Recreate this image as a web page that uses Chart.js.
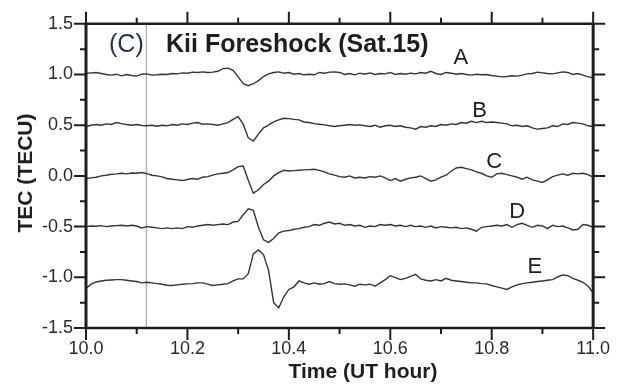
<!DOCTYPE html>
<html>
<head>
<meta charset="utf-8">
<title>Kii Foreshock TEC</title>
<script src="https://cdn.jsdelivr.net/npm/chart.js@4.4.0/dist/chart.umd.min.js"></script>
<style>
  body { margin: 0; background: #fff; }
  #wrap { width: 620px; height: 387px; }
</style>
</head>
<body>
<div id="wrap"><canvas id="tecChart" width="620" height="387"></canvas></div>
<script>
// ===============================
// DATA (TEC traces, offset per satellite/station)
// ===============================
const times = [
  10.00, 10.01, 10.02, 10.03, 10.04, 10.05, 10.06, 10.07, 10.08, 10.09,
  10.10, 10.11, 10.12, 10.13, 10.14, 10.15, 10.16, 10.17, 10.18, 10.19,
  10.20, 10.21, 10.22, 10.23, 10.24, 10.25, 10.26, 10.27, 10.28, 10.29,
  10.30, 10.31, 10.32, 10.33, 10.34, 10.35, 10.36, 10.37, 10.38, 10.39,
  10.40, 10.41, 10.42, 10.43, 10.44, 10.45, 10.46, 10.47, 10.48, 10.49,
  10.50, 10.51, 10.52, 10.53, 10.54, 10.55, 10.56, 10.57, 10.58, 10.59,
  10.60, 10.61, 10.62, 10.63, 10.64, 10.65, 10.66, 10.67, 10.68, 10.69,
  10.70, 10.71, 10.72, 10.73, 10.74, 10.75, 10.76, 10.77, 10.78, 10.79,
  10.80, 10.81, 10.82, 10.83, 10.84, 10.85, 10.86, 10.87, 10.88, 10.89,
  10.90, 10.91, 10.92, 10.93, 10.94, 10.95, 10.96, 10.97, 10.98, 10.99,
  11.00
];

const traceA = [
  1.010, 1.016, 1.020, 1.010, 1.000, 0.994, 1.003, 0.987, 1.000, 0.990,
  0.984, 1.003, 1.006, 0.994, 0.997, 1.003, 1.000, 1.010, 1.006, 1.016,
  1.013, 1.023, 1.020, 1.026, 1.020, 1.023, 1.032, 1.058, 1.062, 1.042,
  0.977, 0.909, 0.890, 0.909, 0.940, 0.980, 1.006, 1.020, 1.026, 1.013,
  1.020, 1.003, 1.010, 0.997, 1.003, 0.997, 1.020, 1.013, 1.023, 1.026,
  1.020, 1.000, 1.010, 0.997, 1.013, 1.003, 1.016, 1.000, 1.010, 1.006,
  1.020, 1.000, 1.010, 1.003, 1.013, 1.006, 1.020, 1.013, 1.032, 1.010,
  1.000, 1.020, 1.013, 1.003, 1.010, 1.000, 0.994, 1.003, 0.997, 1.000,
  0.990, 0.984, 0.977, 0.980, 0.987, 0.984, 0.994, 1.006, 1.010, 1.023,
  1.016, 1.010, 1.006, 1.016, 1.026, 1.020, 1.000, 1.010, 0.994, 0.977,
  0.968
];

const traceB = [
  0.487, 0.500, 0.507, 0.500, 0.513, 0.507, 0.526, 0.516, 0.507, 0.500,
  0.507, 0.497, 0.494, 0.500, 0.490, 0.500, 0.494, 0.507, 0.500, 0.513,
  0.507, 0.520, 0.526, 0.510, 0.513, 0.507, 0.500, 0.513, 0.526, 0.558,
  0.584, 0.510, 0.375, 0.344, 0.412, 0.474, 0.500, 0.532, 0.552, 0.568,
  0.565, 0.558, 0.552, 0.532, 0.526, 0.516, 0.510, 0.503, 0.494, 0.487,
  0.494, 0.500, 0.507, 0.500, 0.503, 0.494, 0.487, 0.500, 0.480, 0.494,
  0.500, 0.487, 0.494, 0.480, 0.474, 0.461, 0.487, 0.480, 0.494, 0.487,
  0.507, 0.500, 0.513, 0.507, 0.526, 0.520, 0.539, 0.526, 0.539, 0.526,
  0.532, 0.526, 0.520, 0.513, 0.494, 0.500, 0.487, 0.494, 0.474, 0.461,
  0.468, 0.474, 0.494, 0.487, 0.513, 0.507, 0.526, 0.520, 0.513, 0.494,
  0.487
];

const traceC = [
  -0.026, -0.020, -0.013, 0.000, 0.007, 0.016, 0.020, 0.026, 0.020, 0.029,
  0.026, 0.033, 0.023, 0.007, 0.000, -0.010, -0.026, -0.033, -0.039, -0.046,
  -0.036, -0.026, -0.033, -0.013, -0.007, 0.007, 0.020, 0.026, 0.033, 0.059,
  0.091, 0.098, -0.042, -0.170, -0.137, -0.085, -0.052, 0.000, 0.033, 0.055,
  0.049, 0.052, 0.055, 0.059, 0.062, 0.065, 0.055, 0.039, 0.020, 0.007,
  -0.007, -0.013, 0.000, -0.020, -0.013, -0.020, -0.007, -0.013, 0.000, -0.020,
  -0.046, -0.026, -0.052, -0.033, -0.020, -0.013, 0.000, -0.026, -0.052, -0.039,
  -0.013, 0.007, 0.046, 0.078, 0.085, 0.072, 0.059, 0.039, 0.026, 0.000,
  -0.013, 0.020, 0.026, 0.013, 0.000, -0.013, -0.033, -0.013, -0.039, -0.052,
  -0.065, -0.039, -0.007, 0.007, 0.020, 0.007, 0.026, 0.020, 0.026, 0.013,
  -0.013
];

const traceD = [
  -0.500, -0.494, -0.497, -0.490, -0.500, -0.494, -0.490, -0.487, -0.494, -0.487,
  -0.494, -0.513, -0.500, -0.507, -0.513, -0.520, -0.513, -0.520, -0.513, -0.520,
  -0.500, -0.507, -0.494, -0.487, -0.480, -0.487, -0.480, -0.474, -0.480, -0.455,
  -0.448, -0.383, -0.325, -0.340, -0.507, -0.630, -0.655, -0.617, -0.562, -0.545,
  -0.539, -0.526, -0.520, -0.507, -0.500, -0.480, -0.487, -0.467, -0.455, -0.474,
  -0.467, -0.487, -0.480, -0.494, -0.487, -0.507, -0.494, -0.500, -0.480, -0.487,
  -0.480, -0.494, -0.487, -0.500, -0.487, -0.500, -0.494, -0.507, -0.494, -0.513,
  -0.500, -0.507, -0.513, -0.507, -0.520, -0.513, -0.526, -0.545, -0.507, -0.500,
  -0.494, -0.487, -0.494, -0.480, -0.507, -0.480, -0.467, -0.487, -0.507, -0.487,
  -0.494, -0.520, -0.487, -0.500, -0.494, -0.513, -0.533, -0.526, -0.480, -0.487,
  -0.507
];

const traceE = [
  -1.110, -1.068, -1.046, -1.036, -1.029, -1.026, -1.023, -1.023, -1.029, -1.036,
  -1.042, -1.055, -1.049, -1.055, -1.062, -1.068, -1.078, -1.081, -1.075, -1.068,
  -1.065, -1.062, -1.055, -1.055, -1.068, -1.081, -1.075, -1.068, -1.062, -1.036,
  -1.016, -1.016, -0.964, -0.769, -0.730, -0.776, -0.932, -1.250, -1.300, -1.192,
  -1.120, -1.094, -1.036, -1.055, -1.068, -1.055, -1.068, -1.062, -1.042, -1.062,
  -1.068, -1.065, -1.075, -1.088, -1.068, -1.075, -1.068, -1.088, -1.055, -1.023,
  -0.984, -1.003, -1.023, -1.010, -0.990, -0.971, -1.016, -1.029, -1.036, -1.023,
  -1.036, -1.010, -1.029, -1.036, -1.042, -1.049, -1.055, -1.055, -1.062, -1.065,
  -1.081, -1.094, -1.107, -1.120, -1.094, -1.075, -1.062, -1.055, -1.049, -1.042,
  -1.036, -1.029, -1.023, -0.997, -0.977, -0.984, -1.010, -1.029, -1.049, -1.088,
  -1.152
];

const traceNames = ["A", "B", "C", "D", "E"];
const traces = [traceA, traceB, traceC, traceD, traceE];

// time of the event marker (vertical gray line)
const markerTime = 10.119;

// ===============================
// STYLE
// ===============================
const FONT = "'Liberation Sans', Arial, Helvetica, sans-serif";
const INK = "#1e1e1e";
const LABEL_INK = "#262a34";

// where the trace letters sit (data coords)
const letterPos = [
  [10.739, 1.159],
  [10.776, 0.643],
  [10.805, 0.136],
  [10.850, -0.351],
  [10.885, -0.896]
];

// ===============================
// FRAME / TICKS / TEXT PLUGIN
// ===============================
const framePlugin = {
  id: "frame",
  beforeDatasetsDraw(chart) {
    const { ctx, chartArea } = chart;
    const x = chart.scales.x.getPixelForValue(markerTime);
    ctx.save();
    ctx.strokeStyle = "#b4b4b4";
    ctx.lineWidth = 1.5;
    ctx.beginPath();
    ctx.moveTo(x, chartArea.top);
    ctx.lineTo(x, chartArea.bottom);
    ctx.stroke();
    ctx.restore();
  },
  afterDraw(chart) {
    const { ctx, chartArea } = chart;
    const { left, right, top, bottom } = chartArea;
    const xs = chart.scales.x;
    const ys = chart.scales.y;

    ctx.save();
    ctx.strokeStyle = INK;
    ctx.lineCap = "butt";

    // box
    ctx.lineWidth = 2.5;
    ctx.beginPath();
    ctx.moveTo(left, top); ctx.lineTo(right, top);
    ctx.moveTo(left, bottom); ctx.lineTo(right, bottom);
    ctx.stroke();
    ctx.lineWidth = 3;
    ctx.beginPath();
    ctx.moveTo(left, top - 1); ctx.lineTo(left, bottom + 1);
    ctx.moveTo(right, top - 1); ctx.lineTo(right, bottom + 1);
    ctx.stroke();

    // x ticks, top and bottom, every 0.1
    ctx.lineWidth = 2;
    ctx.beginPath();
    for (let k = 0; k <= 10; k++) {
      const px = xs.getPixelForValue(10 + k / 10);
      const len = k % 2 === 0 ? 12 : 6;
      ctx.moveTo(px, top); ctx.lineTo(px, top - len);
      ctx.moveTo(px, bottom); ctx.lineTo(px, bottom + len);
    }
    // y ticks, left and right, every 0.25
    for (let k = 0; k <= 12; k++) {
      const py = ys.getPixelForValue(-1.5 + k * 0.25);
      const len = k % 2 === 0 ? 12 : 6;
      ctx.moveTo(left, py); ctx.lineTo(left - len, py);
      ctx.moveTo(right, py); ctx.lineTo(right + len, py);
    }
    ctx.stroke();

    // panel title
    ctx.textBaseline = "alphabetic";
    ctx.textAlign = "left";
    ctx.fillStyle = "#27344e";
    ctx.font = "25px " + FONT;
    ctx.fillText("(C)", 109, 52);
    ctx.fillStyle = INK;
    ctx.font = "bold 25px " + FONT;
    ctx.fillText("Kii Foreshock (Sat.15)", 166, 52);

    // trace letters
    ctx.font = "22px " + FONT;
    ctx.textAlign = "center";
    ctx.textBaseline = "middle";
    traceNames.forEach((name, i) => {
      const p = letterPos[i];
      ctx.fillText(name, xs.getPixelForValue(p[0]), ys.getPixelForValue(p[1]));
    });

    // axis titles
    ctx.font = "bold 21px " + FONT;
    ctx.fillText("Time (UT hour)", 363, 372);
    ctx.translate(26, 173);
    ctx.rotate(-Math.PI / 2);
    ctx.fillText("TEC (TECU)", 0, 0);

    ctx.restore();
  }
};

// ===============================
// CHART
// ===============================
const datasets = traces.map((vals, i) => ({
  label: traceNames[i],
  data: times.map((t, j) => ({ x: t, y: vals[j] })),
  borderColor: "#353535",
  borderWidth: 1.4,
  pointRadius: 0,
  fill: false,
  tension: 0
}));

new Chart(document.getElementById("tecChart"), {
  type: "line",
  data: { datasets },
  options: {
    responsive: false,
    animation: false,
    devicePixelRatio: 1,
    layout: { padding: { top: 20, right: 21, left: 0, bottom: 0 } },
    plugins: {
      legend: { display: false },
      tooltip: { enabled: false }
    },
    scales: {
      x: {
        type: "linear",
        min: 10,
        max: 11,
        border: { display: false },
        grid: { display: false, drawTicks: false },
        ticks: {
          stepSize: 0.2,
          padding: 10,
          autoSkip: false,
          maxRotation: 0,
          color: LABEL_INK,
          font: { family: FONT, size: 18 },
          callback: v => Number(v).toFixed(1)
        },
        afterFit(s) { s.height = 59; }
      },
      y: {
        min: -1.5,
        max: 1.5,
        border: { display: false },
        grid: { display: false, drawTicks: false },
        ticks: {
          stepSize: 0.5,
          padding: 13,
          color: LABEL_INK,
          font: { family: FONT, size: 18 },
          callback: v => Number(v).toFixed(1)
        },
        afterFit(s) { s.width = 86; }
      }
    }
  },
  plugins: [framePlugin]
});
</script>
</body>
</html>
